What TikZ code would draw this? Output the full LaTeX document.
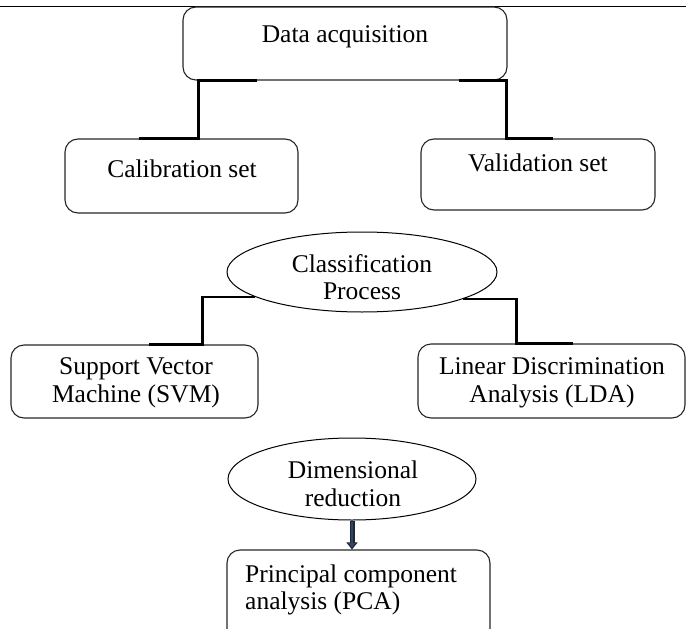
\documentclass[tikz,border=0pt]{standalone}
\usepackage{fontspec}
\setmainfont{Liberation Serif}
\usetikzlibrary{shapes.geometric,calc,arrows.meta}
\definecolor{arrblue}{RGB}{40,70,120}
\begin{document}
\begin{tikzpicture}[x=1pt,y=-1pt,
  boxst/.style={draw=black!85,line width=1.1pt,rounded corners=13pt,inner sep=0pt},
  ellst/.style={draw=black,line width=1pt,ellipse,inner sep=0pt},
  txt/.style={font=\fontsize{25.5}{27.5}\selectfont,align=center,inner sep=0pt},
  conn/.style={line width=2.3pt,black}]
\useasboundingbox (0,0) rectangle (686,629);
\clip (0,0) rectangle (686,629);
% header rule
\coordinate (hl) at (0,6);
\coordinate (hr) at (686,6);
\draw[line width=1pt] (hl) -- (hr);
% boxes
\node[boxst,minimum width=324pt,minimum height=73pt] (data) at (345,43.5) {};
\node[boxst,minimum width=233pt,minimum height=74pt] (cal) at (181.5,176) {};
\node[boxst,minimum width=234pt,minimum height=71pt] (val) at (538,174.5) {};
\node[boxst,minimum width=247pt,minimum height=73pt] (svm) at (134.5,381.5) {};
\node[boxst,minimum width=267pt,minimum height=74pt] (lda) at (551.5,381) {};
\node[boxst,minimum width=263pt,minimum height=100pt] (pca) at (358.5,600) {};
\node[ellst,minimum width=270pt,minimum height=80pt] (cls) at (362,272) {};
\node[ellst,minimum width=248pt,minimum height=82pt] (dim) at (352,479) {};
% texts
\node[txt] (datat) at (345,37) {Data acquisition};
\node[txt] (calt) at (182,169) {Calibration set};
\node[txt] (valt) at (538,163) {Validation set};
\node[txt] (clst) at (362,277) {Classification\\Process};
\node[txt] (svmt) at (136,383) {Support Vector\\Machine (SVM)};
\node[txt] (ldat) at (552,383) {Linear Discrimination\\Analysis (LDA)};
\node[txt] (dimt) at (353,484) {Dimensional\\reduction};
\node[txt,align=left,anchor=west] (pcat) at (245,590) {Principal component\\analysis (PCA)};
% connector points
\coordinate (a1) at ($(data.south west)+(75,0)$);
\coordinate (a2) at ($(data.south west)+(16,0)$);
\coordinate (a3) at (a2 |- cal.north);
\coordinate (a4) at ($(cal.north west)+(75,0)$);
\coordinate (b1) at ($(data.south east)+(-49,0)$);
\coordinate (b2) at ($(data.south east)+(-1,0)$);
\coordinate (b3) at (b2 |- val.north);
\coordinate (b4) at ($(val.north west)+(133,0)$);
\coordinate (c1) at (cls.193);
\coordinate (c3) at ($(svm.north west)+(192,0)$);
\coordinate (c2) at (c3 |- c1);
\coordinate (c4) at ($(svm.north west)+(139,0)$);
\coordinate (d1) at (cls.345.5);
\coordinate (d3) at ($(lda.north west)+(99,0)$);
\coordinate (d2) at (d3 |- d1);
\coordinate (d4) at ($(lda.north west)+(156,0)$);
% connectors
\draw[conn] (a1) -- (a2) -- (a3) -- (a4);
\draw[conn] (b1) -- (b2) -- (b3) -- (b4);
\draw[conn] (c1) -- (c2) -- (c3) -- (c4);
\draw[conn] (d1) -- (d2) -- (d3) -- (d4);
% arrow
\coordinate (e2) at (dim.south |- pca.north);
\draw[line width=5pt,black!85,-{Triangle[width=11pt,length=7pt]}] (dim.south) -- (e2);
\draw[line width=2.6pt,arrblue,-{Triangle[width=7pt,length=4.5pt]}] ($(dim.south)+(0,1)$) -- ($(e2)+(0,-2)$);
\end{tikzpicture}
\end{document}
